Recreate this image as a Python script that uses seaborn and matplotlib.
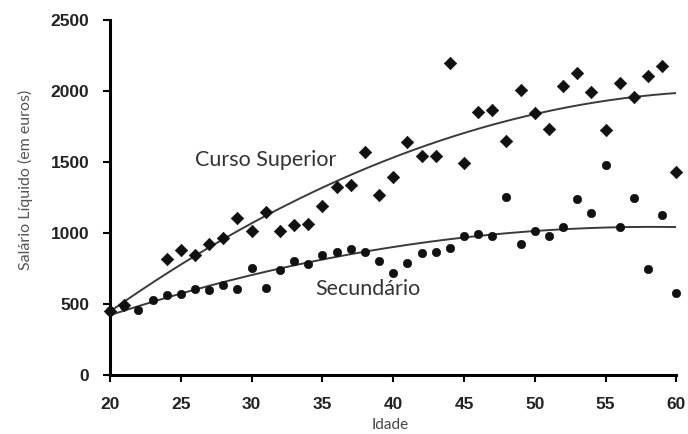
import numpy as np
import pandas as pd
import matplotlib
matplotlib.use("Agg")
import matplotlib.pyplot as plt
import seaborn as sns

# Data
ages_sup = [20, 21, 24, 25, 26, 27, 28, 29, 30, 31, 32, 33, 34, 35, 36, 37, 38, 39, 40,
            41, 42, 43, 44, 45, 46, 47, 48, 49, 50, 51, 52, 53, 54, 55, 56, 57, 58, 59, 60]
sal_sup = [450, 490, 815, 880, 845, 920, 962, 1103, 1009, 1143, 1009, 1056, 1061, 1188,
           1322, 1338, 1570, 1263, 1390, 1639, 1540, 1544, 2199, 1491, 1854, 1868, 1648,
           2005, 1847, 1728, 2031, 2129, 1995, 1725, 2054, 1960, 2103, 2176, 1427]

ages_sec = list(range(20, 61))
sal_sec = [450, 486, 458, 528, 559, 570, 603, 598, 629, 606, 751, 613, 739, 798, 782, 845,
           864, 885, 864, 798, 716, 786, 857, 861, 892, 979, 991, 974, 1253, 922, 1009, 979,
           1037, 1235, 1138, 1479, 1040, 1244, 746, 1127, 575]

# Trend-curve values
curve_ages_sup = [20, 27, 36, 50, 57, 60]
curve_vals_sup = [437, 920, 1340, 1847, 1960, 1979]
curve_ages_sec = [20, 25, 32, 38, 45, 50, 56, 60]
curve_vals_sec = [423, 570, 739, 864, 979, 1009, 1040, 1037]

x_ticks = [20, 25, 30, 35, 40, 45, 50, 55, 60]
y_ticks = [0, 500, 1000, 1500, 2000, 2500]

sns.set_theme(style="white")
plt.rcParams['font.family'] = ['Liberation Sans', 'DejaVu Sans']

fig = plt.figure(figsize=(6.88, 4.34), dpi=100)
ax = fig.add_axes([0.160, 0.137, 0.823, 0.817])

df_sup = pd.DataFrame({"Idade": ages_sup, "Salario": sal_sup})
df_sec = pd.DataFrame({"Idade": ages_sec, "Salario": sal_sec})

sns.scatterplot(data=df_sec, x="Idade", y="Salario", marker="o", s=36, color="#111111",
                edgecolor="#111111", linewidth=0.5, ax=ax, zorder=3, clip_on=False)
sns.scatterplot(data=df_sup, x="Idade", y="Salario", marker="D", s=40, color="#111111",
                edgecolor="#111111", linewidth=0.5, ax=ax, zorder=3, clip_on=False)

xs = np.linspace(20, 60, 200)
for ca, cv in [(curve_ages_sup, curve_vals_sup), (curve_ages_sec, curve_vals_sec)]:
    coef = np.polyfit(ca, cv, 2)
    sns.lineplot(x=xs, y=np.polyval(coef, xs), color="#3a3a3a", linewidth=1.4, ax=ax, zorder=2)

ax.set_xlim(20, 60)
ax.set_ylim(0, 2500)
ax.set_xticks(x_ticks)
ax.set_yticks(y_ticks)
ax.tick_params(axis="both", direction="out", length=5, width=1.5, color="black",
               labelsize=12.5, bottom=True, left=True)
ax.tick_params(axis="x", pad=11)
ax.tick_params(axis="y", pad=10)
for lab in ax.get_xticklabels() + ax.get_yticklabels():
    lab.set_fontweight("bold")
    lab.set_color("#222222")

for s in ["top", "right"]:
    ax.spines[s].set_visible(False)
for s in ["left", "bottom"]:
    ax.spines[s].set_color("black")
    ax.spines[s].set_linewidth(2.2)

ax.set_xlabel("Idade", fontsize=11, family=["Lato", "DejaVu Sans"], color="#444444")
ax.xaxis.set_label_coords(0.495, -0.122)
ax.set_ylabel("Salário Líquido (em euros)", fontsize=11.5, family=["Lato", "DejaVu Sans"],
              color="#555555")
ax.yaxis.set_label_coords(-0.136, 0.549)

ax.text(26.0, 1472, "Curso Superior", fontsize=15.5, family=["Lato", "DejaVu Sans"],
        color="#333333", va="baseline")
ax.text(34.5, 563, "Secundário", fontsize=15.5, family=["Lato", "DejaVu Sans"],
        color="#333333", va="baseline")

fig.savefig("out.png", dpi=100)
